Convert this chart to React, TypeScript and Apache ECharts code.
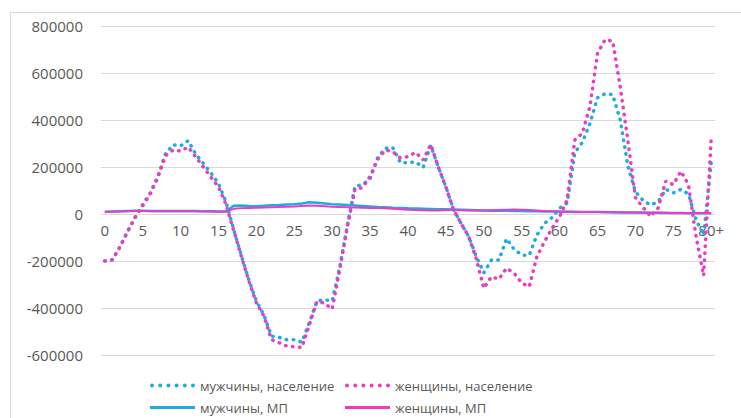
import React, { useEffect, useRef } from "react";
import * as echarts from "echarts";

const ages: string[] = [];
for (let i = 0; i < 80; i++) ages.push(String(i));
ages.push("80+");

const malePopulation = [
  -200000, -195000, -140000, -75000, -15000, 40000, 90000, 160000, 255000, 295000,
  290000, 312000, 255000, 215000, 175000, 130000, 50000, -65000, -175000, -280000,
  -370000, -430000, -520000, -525000, -535000, -535000, -545000, -460000, -370000, -365000,
  -370000, -225000, -50000, 118000, 125000, 150000, 240000, 280000, 282000, 218000,
  218000, 222000, 198000, 292000, 200000, 115000, 20000, -40000, -95000, -180000,
  -250000, -196000, -196000, -105000, -150000, -175000, -175000, -90000, -40000, -15000,
  25000, 47000, 260000, 305000, 385000, 495000, 512000, 508000, 400000, 205000,
  95000, 58000, 38000, 52000, 105000, 90000, 105000, 85000, -25000, -90000,
  220000,
];

const femalePopulation = [
  -200000, -195000, -140000, -75000, -15000, 35000, 85000, 155000, 248000, 272000,
  268000, 285000, 243000, 200000, 157000, 115000, 40000, -70000, -178000, -285000,
  -378000, -435000, -535000, -548000, -562000, -565000, -568000, -470000, -372000, -380000,
  -405000, -235000, -55000, 105000, 112000, 160000, 232000, 272000, 265000, 238000,
  244000, 262000, 230000, 296000, 200000, 115000, 18000, -40000, -95000, -190000,
  -316000, -267000, -277000, -230000, -252000, -294000, -309000, -182000, -118000, -61000,
  -11000, 60000, 315000, 344000, 457000, 684000, 742000, 735000, 541000, 315000,
  70000, 28000, -10000, 25000, 140000, 125000, 182000, 125000, -96000, -262000,
  323000,
];

const maleMP = [
  10000, 11000, 12000, 13000, 14000, 14000, 13000, 13000, 13000, 13000,
  13000, 13000, 13000, 12000, 12000, 11000, 11000, 35000, 36000, 34000,
  33000, 35000, 37000, 38000, 40000, 42000, 45000, 50000, 48000, 45000,
  42000, 40000, 38000, 36000, 34000, 32000, 30000, 29000, 27000, 26000,
  24000, 23000, 22000, 21000, 20000, 20000, 19000, 18000, 17000, 16000,
  15000, 14000, 14000, 14000, 13000, 13000, 12000, 12000, 11000, 11000,
  10000, 10000, 9000, 9000, 8000, 8000, 7000, 7000, 6000, 6000,
  6000, 5000, 5000, 5000, 4000, 4000, 4000, 3000, 3000, 3000,
  3000,
];

const femaleMP = [
  9000, 10000, 11000, 12000, 13000, 13000, 12000, 12000, 12000, 12000,
  12000, 12000, 12000, 11000, 11000, 10000, 10000, 22000, 25000, 26000,
  27000, 28000, 29000, 30000, 31000, 32000, 34000, 36000, 35000, 33000,
  31000, 30000, 29000, 28000, 27000, 26000, 25000, 24000, 22000, 20000,
  18000, 17000, 16000, 15000, 15000, 17000, 17000, 16000, 15000, 15000,
  15000, 16000, 17000, 18000, 19000, 18000, 17000, 15000, 13000, 12000,
  11000, 10000, 10000, 9000, 9000, 8000, 8000, 7000, 7000, 6000,
  6000, 6000, 5000, 5000, 5000, 4000, 4000, 4000, 4000, 4000,
  4000,
];

const seriesNames = [
  "мужчины, население",
  "женщины, население",
  "мужчины, МП",
  "женщины, МП",
];

const BLUE = "#21a9e1";
const PINK = "#e83ec3";
const FONT = "Open Sans";

// legend icons: six round dots / a solid bar
const DOTS_ICON =
  "path://" +
  [0, 1, 2, 3, 4, 5]
    .map((i) => {
      const cx = 2 + i * 8.2;
      return `M${cx - 2},2 a2,2 0 1,0 4,0 a2,2 0 1,0 -4,0 Z`;
    })
    .join(" ");
const BAR_ICON = "path://M0,0 H45 V3 H0 Z";

export default function App() {
  const ref = useRef<HTMLDivElement>(null);
  useEffect(() => {
    if (!ref.current) return;
    const chart = echarts.init(ref.current, undefined, { renderer: "svg" });
    const dotted = (color: string) => ({
      color,
      width: 3.5,
      type: [0.5, 6.5],
      cap: "round",
    });
    const legendText = { fontSize: 13, color: "#595959", fontFamily: FONT };
    const legendDots = { itemWidth: 45, itemHeight: 4, itemGap: 5, textStyle: legendText, icon: DOTS_ICON };
    const legendBar = { itemWidth: 45, itemHeight: 3, itemGap: 5, textStyle: legendText, icon: BAR_ICON };
    chart.setOption({
      animation: false,
      backgroundColor: "#ffffff",
      graphic: [
        {
          type: "rect",
          shape: { x: 10.5, y: 12.5, width: 740, height: 420 },
          style: { fill: "none", stroke: "#d9d9d9", lineWidth: 1 },
          silent: true,
        },
      ],
      grid: { left: 101, right: 26, top: 26, bottom: 63 },
      legend: [
        { ...legendDots, data: [seriesNames[0]], left: 145, top: 374 },
        { ...legendDots, data: [seriesNames[1]], left: 340, top: 374 },
        { ...legendBar, data: [seriesNames[2]], left: 145, top: 396 },
        { ...legendBar, data: [seriesNames[3]], left: 340, top: 396 },
      ],
      xAxis: {
        type: "category",
        data: ages,
        boundaryGap: true,
        offset: -141,
        axisLine: { onZero: false, lineStyle: { color: "#d9d9d9" } },
        axisTick: { show: false },
        axisLabel: {
          interval: 4,
          fontSize: 15,
          color: "#595959",
          fontFamily: FONT,
          margin: 8,
        },
      },
      yAxis: {
        type: "value",
        min: -600000,
        max: 800000,
        interval: 200000,
        axisLine: { show: false },
        axisTick: { show: false },
        axisLabel: {
          fontSize: 15,
          color: "#595959",
          fontFamily: FONT,
          margin: 18,
          formatter: (v: number) => String(v),
        },
        splitLine: { lineStyle: { color: "#d9d9d9", width: 1 } },
      },
      series: [
        {
          name: seriesNames[0],
          type: "line",
          data: malePopulation,
          symbol: "none",
          lineStyle: dotted(BLUE),
          itemStyle: { color: BLUE },
        },
        {
          name: seriesNames[1],
          type: "line",
          data: femalePopulation,
          symbol: "none",
          lineStyle: dotted(PINK),
          itemStyle: { color: PINK },
        },
        {
          name: seriesNames[2],
          type: "line",
          data: maleMP,
          symbol: "none",
          lineStyle: { color: BLUE, width: 2.5 },
          itemStyle: { color: BLUE },
        },
        {
          name: seriesNames[3],
          type: "line",
          data: femaleMP,
          symbol: "none",
          lineStyle: { color: PINK, width: 2 },
          itemStyle: { color: PINK },
        },
      ],
    });
    return () => chart.dispose();
  }, []);
  return (
    <div
      ref={ref}
      style={{ position: "fixed", left: 0, top: 0, width: 741, height: 418 }}
    />
  );
}
